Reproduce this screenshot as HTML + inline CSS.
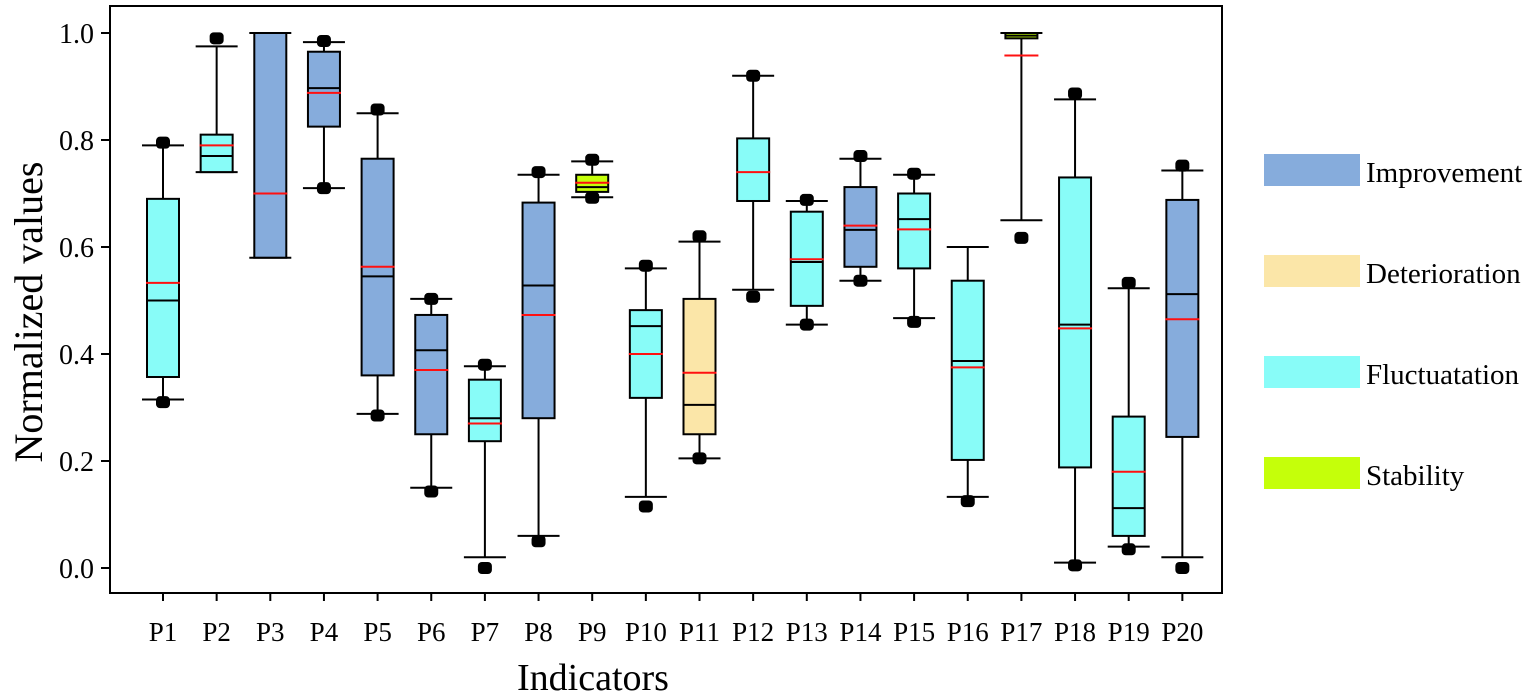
<!DOCTYPE html>
<html><head><meta charset="utf-8"><style>
body{margin:0;background:#fff}
svg{display:block;font-family:"Liberation Serif",serif}
</style></head><body>
<svg id="chart" width="1535" height="696" viewBox="0 0 1535 696" xmlns="http://www.w3.org/2000/svg">
<rect x="110" y="6" width="1112" height="587" fill="#fff" stroke="#000" stroke-width="2"/>
<g id="axes"></g>
<g id="boxes"></g>
<text transform="translate(42,312) rotate(-90)" text-anchor="middle" font-size="40">Normalized values</text>
<text x="593" y="690" text-anchor="middle" font-size="38">Indicators</text>
<g id="legend"></g>
</svg>
<script>
const categories=["P1","P2","P3","P4","P5","P6","P7","P8","P9","P10","P11","P12","P13","P14","P15","P16","P17","P18","P19","P20"];
const groups=["F","F","I","I","I","I","F","I","S","F","D","F","F","I","F","F","S","F","F","I"];
const whiskerHigh=[0.79,0.975,1.0,0.983,0.85,0.503,0.377,0.735,0.76,0.56,0.61,0.92,0.686,0.765,0.735,0.6,1.0,0.876,0.523,0.743];
const q3=[0.69,0.81,1.0,0.965,0.765,0.473,0.352,0.683,0.735,0.482,0.503,0.803,0.666,0.712,0.70,0.537,1.0,0.73,0.283,0.688];
const medians=[0.50,0.77,0.70,0.897,0.545,0.407,0.28,0.528,0.712,0.452,0.305,0.686,0.572,0.632,0.652,0.387,0.995,0.455,0.112,0.512];
const means=[0.533,0.79,0.70,0.888,0.563,0.37,0.27,0.473,0.72,0.40,0.365,0.74,0.577,0.64,0.633,0.375,0.958,0.448,0.18,0.465];
const q1=[0.357,0.74,0.58,0.825,0.36,0.25,0.237,0.28,0.703,0.318,0.25,0.686,0.49,0.563,0.56,0.202,0.99,0.188,0.06,0.245];
const whiskerLow=[0.315,0.74,0.58,0.71,0.288,0.15,0.02,0.06,0.693,0.133,0.205,0.52,0.455,0.537,0.467,0.133,0.65,0.01,0.04,0.02];
const outHigh=[0.795,0.99,null,0.985,0.857,0.503,0.38,0.74,0.763,0.565,0.62,0.92,0.688,0.77,0.737,null,null,0.887,0.533,0.752];
const outLow=[0.31,null,null,0.71,0.285,0.143,0.0,0.05,0.692,0.115,0.205,0.507,0.455,0.537,0.46,0.125,0.617,0.005,0.035,0.0];
const yTicks=[0,0.2,0.4,0.6,0.8,1.0];
const legendLabels=["Improvement","Deterioration","Fluctuatation","Stability"];
const legendKeys=["I","D","F","S"];
const colors={I:"#86acdc",D:"#fbe6a8",F:"#88fcf8",S:"#c5ff0a"};
const NS="http://www.w3.org/2000/svg";
const y=v=>568-535*v;
const x=i=>163+i*53.65;
function mk(tag,attrs,parent){const e=document.createElementNS(NS,tag);for(const k in attrs)e.setAttribute(k,attrs[k]);parent.appendChild(e);return e;}
const axes=document.getElementById('axes');
yTicks.forEach(t=>{
  const l=mk('line',{x1:101,x2:110,y1:y(t),y2:y(t),stroke:'#000','stroke-width':2},axes);
  
  
  const tx=mk('text',{x:94,y:y(t)+10,'text-anchor':'end','font-size':28},axes);
  tx.textContent=t.toFixed(1);
  
  
});
categories.forEach((c,i)=>{
  const l=mk('line',{x1:x(i),x2:x(i),y1:593,y2:601,stroke:'#000','stroke-width':2},axes);
  
  
  const tx=mk('text',{x:x(i),y:641,'text-anchor':'middle','font-size':27},axes);
  tx.textContent=c;
  
  
});
const bg=document.getElementById('boxes');
categories.forEach((c,i)=>{
  const g=mk('g',{},bg);
  
  
  const cx=x(i);
  mk('line',{x1:cx,x2:cx,y1:y(whiskerHigh[i]),y2:y(whiskerLow[i]),stroke:'#000','stroke-width':2},g);
  mk('line',{x1:cx-21,x2:cx+21,y1:y(whiskerHigh[i]),y2:y(whiskerHigh[i]),stroke:'#000','stroke-width':2},g);
  mk('line',{x1:cx-21,x2:cx+21,y1:y(whiskerLow[i]),y2:y(whiskerLow[i]),stroke:'#000','stroke-width':2},g);
  const top=y(q3[i]),bot=y(q1[i]);
  mk('rect',{x:cx-16,y:top,width:32,height:Math.max(bot-top,1),fill:colors[groups[i]],stroke:'#000','stroke-width':2},g);
  mk('line',{x1:cx-16,x2:cx+16,y1:y(medians[i]),y2:y(medians[i]),stroke:'#000','stroke-width':2},g);
  mk('line',{x1:cx-17,x2:cx+17,y1:y(means[i]),y2:y(means[i]),stroke:'#ff1010','stroke-width':2},g);
  [outHigh[i],outLow[i]].forEach(o=>{
    if(o===null)return;
    const d=mk('rect',{x:cx-7,y:y(o)-6,width:14,height:12,rx:4,fill:'#000'},g);
    
    
  });
});
const lg=document.getElementById('legend');
legendLabels.forEach((lab,i)=>{
  const g=mk('g',{},lg);
  
  
  const yy=154+i*101;
  mk('rect',{x:1264,y:yy,width:96,height:32,fill:colors[legendKeys[i]]},g);
  const t=mk('text',{x:1366,y:yy+28,'font-size':29},g);
  t.textContent=lab;
});
</script>
</body></html>
